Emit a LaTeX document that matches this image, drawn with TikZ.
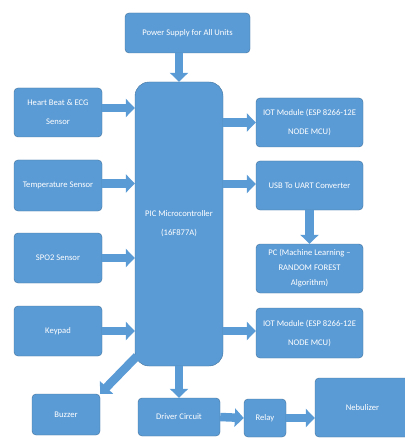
\documentclass[tikz,border=0pt]{standalone}
\usepackage{fontspec}
\setmainfont{Carlito}
\usepackage{tikz}
\usepackage{xcolor}
\usetikzlibrary{arrows.meta, positioning}
\definecolor{blockBlue}{RGB}{91,155,213}
\definecolor{blockEdge}{RGB}{65,113,156}

\begin{document}
\begin{tikzpicture}[x=1pt, y=-1pt,
      box/.style={rounded corners=4pt, draw=blockEdge, fill=blockBlue, text=white, align=center,
      inner sep=2pt, font=\fontsize{8.6}{19}\selectfont},
      arrow/.style={-{Triangle[length=9pt, width=18pt]}, line width=8.5pt, draw=blockBlue}
    ]
    \useasboundingbox (0,0) rectangle (404,438);

    \node[box, minimum width=125pt, minimum height=40pt] (power) at (187.5,33) {Power Supply for All Units};
    \node[box, rounded corners=14pt, minimum width=88pt, minimum height=284pt] (pic) at (179,224) {PIC Microcontroller\\(16F877A)};

    \node[box, minimum width=88pt, minimum height=49pt] (heart) at (58,112.5) {Heart Beat \& ECG\\Sensor};
    \node[box, minimum width=88pt, minimum height=51pt] (temp) at (58,185.5) {Temperature Sensor};
    \node[box, minimum width=88pt, minimum height=50pt] (spo) at (58,258) {SPO2 Sensor};
    \node[box, minimum width=88pt, minimum height=50pt] (keypad) at (58,331) {Keypad};

    \node[box, minimum width=107pt, minimum height=49pt] (iotA) at (309.5,122.5) {IOT Module (ESP 8266-12E\\NODE MCU)};
    \node[box, minimum width=107pt, minimum height=49pt] (usb) at (309.5,185.5) {USB To UART Converter};
    \node[box, inner ysep=0pt, font=\fontsize{8.6}{15}\selectfont, minimum width=107pt, minimum height=49pt] (pc) at (309.5,268.5) {PC (Machine Learning --\\RANDOM FOREST\\Algorithm)};
    \node[box, minimum width=107pt, minimum height=50pt] (iotB) at (309.5,333) {IOT Module (ESP 8266-12E\\NODE MCU)};

    \node[box, minimum width=68pt, minimum height=41pt] (buzzer) at (66,414.5) {Buzzer};
    \node[box, minimum width=82pt, minimum height=38pt] (driver) at (179,417) {Driver Circuit};
    \node[box, minimum width=42pt, minimum height=38pt] (relay) at (265,418) {Relay};
    \node[box, minimum width=95pt, minimum height=59pt] (nebulizer) at (362.5,407.5) {Nebulizer};

    \draw[arrow] (power.south -| pic) -- (pic.north);
    \draw[arrow] ([yshift=4.5pt]heart.east) -- ([yshift=4.5pt]heart.east -| pic.west);
    \draw[arrow] ([yshift=2pt]temp.east) -- ([yshift=2pt]temp.east -| pic.west);
    \draw[arrow] (spo.east) -- (spo.east -| pic.west);
    \draw[arrow] (keypad.east) -- (keypad.east -| pic.west);
    \draw[arrow] (iotA.west -| pic.east) -- (iotA.west);
    \draw[arrow] ([yshift=1.5pt]usb.west -| pic.east) -- ([yshift=1.5pt]usb.west);
    \draw[arrow] (usb.south) -- (pc.north);
    \draw[arrow] ([yshift=2pt]iotB.west -| pic.east) -- ([yshift=2pt]iotB.west);
    \draw[arrow] ([shift={(2pt,10pt)}]pic.south west) -- (buzzer.north east);
    \draw[arrow] (pic.south) -- (driver.north);
    \draw[arrow] (driver.east) -- (relay.west);
    \draw[arrow] (relay.east) -- (relay.east -| nebulizer.west);
  \end{tikzpicture}
\end{document}
